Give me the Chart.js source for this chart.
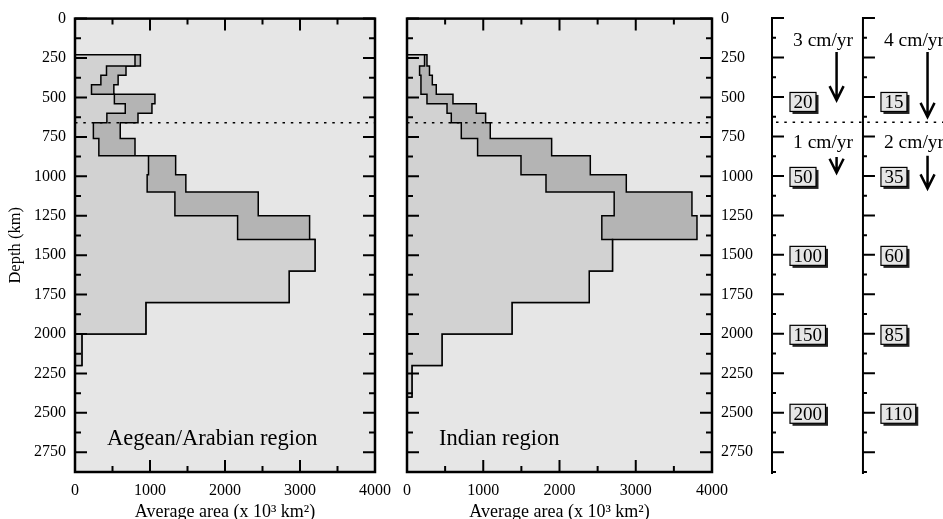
<!DOCTYPE html>
<html>
<head>
<meta charset="utf-8">
<script src="https://cdn.jsdelivr.net/npm/chart.js@4.4.1/dist/chart.umd.min.js"></script>
<style>
  html, body { margin: 0; padding: 0; background: #fff; }
  body { width: 943px; height: 519px; position: relative; overflow: hidden; }
  canvas { position: absolute; top: 0; }
  #aegean { left: 0; }
  #indian { left: 392px; }
  #ages { left: 760px; }
</style>
</head>
<body>
<canvas id="aegean" width="400" height="519"></canvas>
<canvas id="indian" width="392" height="519"></canvas>
<canvas id="ages" width="183" height="519"></canvas>
<script>
// layer boundaries (km) of the depth profiles
const layerEdges = [230, 300, 360, 420, 480, 540, 600, 660, 760, 870, 990, 1100, 1250, 1400, 1600, 1800, 2000, 2200, 2400];

// average slab area per layer (x 10^3 km^2): lower and upper estimate
const aegeanLow  = [800, 420, 345, 220, 525, 670, 425, 245, 318, 980, 962, 1332, 2168, 3200, 2855, 945, 92, 0];
const aegeanHigh = [872, 680, 575, 518, 1066, 1026, 840, 603, 800, 1342, 1478, 2443, 3128, 3200, 2855, 945, 92, 0];
const indianLow  = [230, 165, 183, 183, 262, 525, 581, 712, 926, 1495, 1823, 2717, 2555, 2695, 2390, 1377, 459, 65];
const indianHigh = [262, 295, 332, 384, 603, 909, 1031, 1092, 1897, 2404, 2876, 3737, 3803, 2695, 2390, 1377, 459, 65];

const transitionDepth = 660;
const maxDepth = 2875;

// age scales (Myr) beside the depth axis
const ageDepths = [500, 1000, 1500, 2000, 2500];
const agesSlow = ['20', '50', '100', '150', '200'];
const agesFast = ['15', '35', '60', '85', '110'];
const ratesSlow = ['3 cm/yr', '1 cm/yr'];
const ratesFast = ['4 cm/yr', '2 cm/yr'];
const rateTextDepths = [150, 800];
const arrowSlowFrom = [215, 880];
const arrowSlowTo = [520, 980];
const arrowFastFrom = [215, 873];
const arrowFastTo = [626, 1079];

const serif = '"Liberation Serif", "Times New Roman", serif';

function profile(values) {
  const pts = [{x: 0, y: layerEdges[0]}];
  values.forEach((v, i) => {
    pts.push({x: v, y: layerEdges[i]});
    pts.push({x: v, y: layerEdges[i + 1]});
  });
  pts.push({x: 0, y: layerEdges[layerEdges.length - 1]});
  return pts;
}

const panelDecor = {
  id: 'panelDecor',
  beforeDraw(chart) {
    const {ctx, chartArea: a} = chart;
    ctx.save();
    ctx.fillStyle = '#e6e6e6';
    ctx.fillRect(a.left, a.top, a.right - a.left, a.bottom - a.top);
    ctx.restore();
  },
  afterDatasetsDraw(chart, args, opts) {
    const {ctx, chartArea: a, scales: {x, y}} = chart;
    ctx.save();
    ctx.strokeStyle = '#000';

    // 660 km line
    const yd = y.getPixelForValue(transitionDepth);
    ctx.lineWidth = 1.5;
    ctx.setLineDash([2.5, 5.8]);
    ctx.beginPath();
    ctx.moveTo(a.left, yd);
    ctx.lineTo(a.right, yd);
    ctx.stroke();
    ctx.setLineDash([]);

    // inward ticks on all four sides
    ctx.lineWidth = 2;
    ctx.beginPath();
    y.ticks.forEach(t => {
      const py = y.getPixelForValue(t.value);
      const len = t.value % 250 === 0 ? 12 : 6;
      ctx.moveTo(a.left, py); ctx.lineTo(a.left + len, py);
      ctx.moveTo(a.right, py); ctx.lineTo(a.right - len, py);
    });
    x.ticks.forEach(t => {
      const px = x.getPixelForValue(t.value);
      const len = t.value % 1000 === 0 ? 12 : 6;
      ctx.moveTo(px, a.top); ctx.lineTo(px, a.top + len);
      ctx.moveTo(px, a.bottom); ctx.lineTo(px, a.bottom - len);
    });
    ctx.stroke();

    ctx.lineWidth = 2.5;
    ctx.strokeRect(a.left, a.top, a.right - a.left, a.bottom - a.top);

    ctx.fillStyle = '#000';
    ctx.font = '22.5px ' + serif;
    ctx.textBaseline = 'alphabetic';
    ctx.fillText(opts.label, a.left + 32, a.bottom - 27);
    ctx.restore();
  }
};

function panel(id, low, high, label, yPos, padLeft, padRight, axisWidth, showTitle) {
  return new Chart(document.getElementById(id), {
    type: 'line',
    data: {
      datasets: [
        {data: profile(low), borderColor: '#000', borderWidth: 1.5, backgroundColor: '#d2d2d2', fill: 'origin', pointRadius: 0},
        {data: profile(high), borderColor: '#000', borderWidth: 1.5, backgroundColor: '#b4b4b4', fill: 'origin', pointRadius: 0}
      ]
    },
    options: {
      responsive: false,
      animation: false,
      indexAxis: 'y',
      layout: {padding: {top: 18, left: padLeft, right: padRight, bottom: 0}},
      plugins: {
        legend: {display: false},
        tooltip: {enabled: false},
        panelDecor: {label: label}
      },
      scales: {
        x: {
          type: 'linear', position: 'bottom', min: 0, max: 4000,
          grid: {display: false, drawTicks: false},
          border: {display: false},
          ticks: {
            stepSize: 500, autoSkip: false, maxRotation: 0, padding: 9,
            color: '#000', font: {family: serif, size: 16},
            callback: v => (v % 1000 === 0 ? String(v) : '')
          },
          title: {
            display: true, text: 'Average area (x 10³ km²)', color: '#000',
            font: {family: serif, size: 18, lineHeight: 1}, padding: {top: 0, bottom: -2}
          },
          afterFit: s => { s.height = 47; }
        },
        y: {
          type: 'linear', position: yPos, min: 0, max: maxDepth, reverse: true,
          grid: {display: false, drawTicks: false},
          border: {display: false},
          ticks: {
            stepSize: 125, autoSkip: false, padding: 9,
            color: '#000', font: {family: serif, size: 16},
            callback: v => (v % 250 === 0 ? String(v) : '')
          },
          title: {
            display: showTitle, text: 'Depth (km)', color: '#000',
            font: {family: serif, size: 16.5}, padding: {top: 6, bottom: 0}
          },
          afterFit: s => { s.width = axisWidth; }
        }
      }
    },
    plugins: [panelDecor]
  });
}

panel('aegean', aegeanLow, aegeanHigh, 'Aegean/Arabian region', 'left', 0, 21, 75, true);
panel('indian', indianLow, indianHigh, 'Indian region', 'right', 15, 0, 72, false);

// age columns: one linear x slot per column, depth on y
const ageColumns = {
  id: 'ageColumns',
  afterDraw(chart) {
    const {ctx, chartArea: a, scales: {x, y}} = chart;
    const cols = [
      {ages: agesSlow, rates: ratesSlow, from: arrowSlowFrom, to: arrowSlowTo},
      {ages: agesFast, rates: ratesFast, from: arrowFastFrom, to: arrowFastTo}
    ];
    ctx.save();
    ctx.strokeStyle = '#000';
    ctx.fillStyle = '#000';

    const yd = y.getPixelForValue(transitionDepth);
    ctx.lineWidth = 1.5;
    ctx.setLineDash([2.5, 5.8]);
    ctx.beginPath();
    ctx.moveTo(a.left + 4, yd);
    ctx.lineTo(a.right, yd);
    ctx.stroke();
    ctx.setLineDash([]);

    cols.forEach((col, i) => {
      const ax = x.getPixelForValue(i);
      ctx.lineWidth = 2;
      ctx.beginPath();
      ctx.moveTo(ax, a.top - 1);
      ctx.lineTo(ax, a.bottom + 2);
      for (let d = 0; d <= maxDepth; d += 125) {
        const py = y.getPixelForValue(d);
        ctx.moveTo(ax, py);
        ctx.lineTo(ax + (d % 250 === 0 ? 12 : 4), py);
      }
      ctx.stroke();

      // age boxes
      ctx.font = '19px ' + serif;
      ctx.textBaseline = 'middle';
      col.ages.forEach((txt, k) => {
        const py = y.getPixelForValue(ageDepths[k]) + (k === 0 ? 5 : 1);
        const w = ctx.measureText(txt).width + 7;
        const bx = ax + 18, by = py - 9.5;
        ctx.fillStyle = '#222';
        ctx.fillRect(bx + 2.5, by + 2.5, w, 19);
        ctx.fillStyle = '#e6e6e6';
        ctx.fillRect(bx, by, w, 19);
        ctx.lineWidth = 1.2;
        ctx.strokeRect(bx, by, w, 19);
        ctx.fillStyle = '#000';
        ctx.fillText(txt, bx + 3.5, py + 1);
      });

      // velocities and arrows
      ctx.font = '19.5px ' + serif;
      ctx.textBaseline = 'middle';
      col.rates.forEach((txt, k) => {
        ctx.fillText(txt, ax + 21, y.getPixelForValue(rateTextDepths[k]) - 1);
        const px = x.getPixelForValue(i + 0.71);
        const p0 = y.getPixelForValue(col.from[k]);
        const p1 = y.getPixelForValue(col.to[k]);
        ctx.lineWidth = 2.5;
        ctx.beginPath();
        ctx.moveTo(px, p0);
        ctx.lineTo(px, p1);
        ctx.moveTo(px - 7, p1 - 14);
        ctx.lineTo(px, p1);
        ctx.lineTo(px + 7, p1 - 14);
        ctx.stroke();
      });
    });
    ctx.restore();
  }
};

new Chart(document.getElementById('ages'), {
  type: 'scatter',
  data: {datasets: []},
  options: {
    responsive: false,
    animation: false,
    layout: {padding: {top: 18, left: 12, right: 0, bottom: 47}},
    plugins: {legend: {display: false}, tooltip: {enabled: false}},
    scales: {
      x: {type: 'linear', min: 0, max: 1.88, display: false},
      y: {type: 'linear', min: 0, max: maxDepth, reverse: true, display: false}
    }
  },
  plugins: [ageColumns]
});
</script>
</body>
</html>
